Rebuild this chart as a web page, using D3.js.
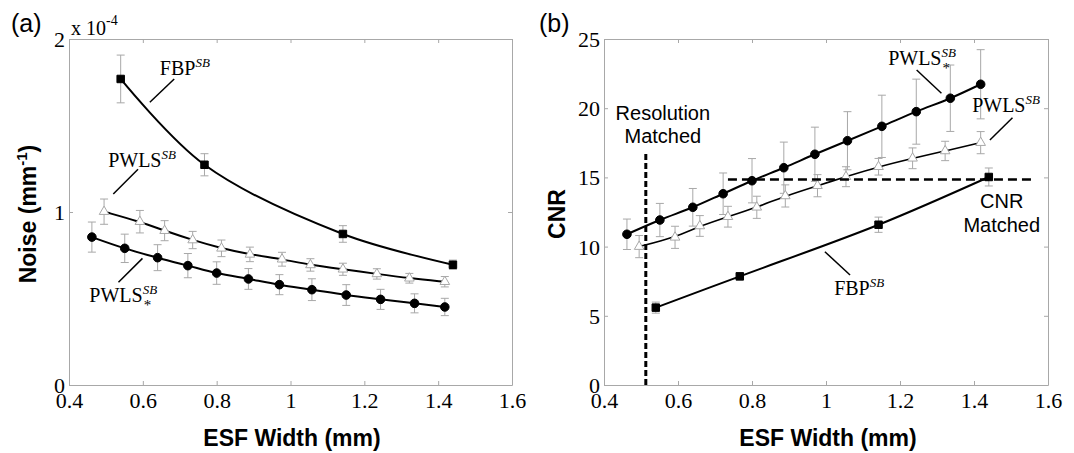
<!DOCTYPE html>
<html>
<head>
<meta charset="utf-8">
<script src="https://cdn.jsdelivr.net/npm/d3@7"></script>
<style>
  body { margin: 0; background: #fff; }
</style>
</head>
<body>
<svg id="chart" width="1074" height="453"></svg>
<script>
// ESF width of each reconstruction (mm)
var fbpX      = [0.54, 0.767, 1.142, 1.44];
var pwlsX     = [0.495, 0.592, 0.659, 0.735, 0.813, 0.89, 0.977, 1.054, 1.142, 1.234, 1.322, 1.418];
var pwlsStarX = [0.462, 0.551, 0.64, 0.722, 0.8, 0.886, 0.97, 1.058, 1.151, 1.244, 1.336, 1.418];

// (a) noise, in units of 1e-4 mm^-1
var fbpNoise         = [1.769, 1.273, 0.873, 0.695];
var fbpNoiseErr      = [0.138, 0.064, 0.048, 0.027];
var pwlsNoise        = [1.002, 0.944, 0.892, 0.838, 0.79, 0.755, 0.727, 0.694, 0.669, 0.642, 0.617, 0.597];
var pwlsNoiseErr     = [0.073, 0.065, 0.058, 0.05, 0.048, 0.042, 0.04, 0.036, 0.035, 0.03, 0.028, 0.03];
var pwlsStarNoise    = [0.855, 0.79, 0.736, 0.69, 0.647, 0.613, 0.58, 0.551, 0.52, 0.495, 0.472, 0.451];
var pwlsStarNoiseErr = [0.087, 0.082, 0.075, 0.07, 0.065, 0.06, 0.058, 0.063, 0.06, 0.058, 0.055, 0.05];

// (b) CNR
var fbpCnr         = [5.59, 7.85, 11.58, 15.03];
var fbpCnrErr      = [0.4, 0.25, 0.55, 0.65];
var pwlsCnr        = [10.0, 10.67, 11.49, 12.16, 12.84, 13.66, 14.4, 15.05, 15.77, 16.38, 16.91, 17.51];
var pwlsCnrErr     = [0.8, 0.8, 0.75, 0.75, 0.8, 0.8, 0.8, 0.72, 0.6, 0.75, 0.7, 0.8];
var pwlsStarCnr    = [10.89, 11.92, 12.84, 13.82, 14.76, 15.7, 16.67, 17.65, 18.69, 19.75, 20.72, 21.73];
var pwlsStarCnrErr = [1.1, 1.2, 1.36, 1.5, 1.6, 1.85, 1.96, 2.1, 2.25, 2.35, 2.4, 2.5];

// matching lines in (b)
var resolutionMatchX = 0.513;
var cnrMatchY = 14.85;

var xTicks = [0.4, 0.6, 0.8, 1, 1.2, 1.4, 1.6];
var noiseTicks = [0, 1, 2];
var cnrTicks = [0, 5, 10, 15, 20, 25];

var svg = d3.select("#chart");
var serif = "Liberation Serif";
var sans = "Liberation Sans";

function zip(xs, ys, es) {
  return xs.map(function (x, i) { return {x: x, y: ys[i], e: es ? es[i] : 0}; });
}

function tickFont(a) {
  a.attr("font-family", serif).attr("font-size", 22);
  a.selectAll("text").style("font-family", serif).style("font-size", "22px").attr("fill", "#000");
}

// draws one panel: frame, ticks, error bars, lines, markers
function drawPanel(left, right, yDomain, yTicks, series) {
  var x = d3.scaleLinear().domain([0.4, 1.6]).range([left, right]);
  var y = d3.scaleLinear().domain(yDomain).range([385, 39]);
  var g = svg.append("g");
  var grey = "#a8a8a8";

  g.append("g").attr("transform", "translate(0,385)")
    .call(d3.axisBottom(x).tickValues(xTicks).tickSize(-4).tickSizeOuter(0).tickFormat(d3.format("")))
    .call(tickFont)
    .call(function (a) { a.selectAll("text").attr("y", 23).attr("dy", null); });
  g.append("g").attr("transform", "translate(0,39)")
    .call(d3.axisTop(x).tickValues(xTicks).tickSize(-4).tickSizeOuter(0).tickFormat(""));
  g.append("g").attr("transform", "translate(" + left + ",0)")
    .call(d3.axisLeft(y).tickValues(yTicks).tickSize(-4).tickSizeOuter(0).tickFormat(d3.format("")))
    .call(tickFont)
    .call(function (a) { a.selectAll("text").attr("x", -4).attr("dy", "0.34em"); });
  g.append("g").attr("transform", "translate(" + right + ",0)")
    .call(d3.axisRight(y).tickValues(yTicks).tickSize(-4).tickSizeOuter(0).tickFormat(""));
  g.selectAll(".domain, .tick line").attr("stroke", grey);

  series.forEach(function (s) {
    var eb = g.append("g").attr("stroke", grey).attr("stroke-width", 1);
    s.data.forEach(function (d) {
      var px = x(d.x);
      eb.append("line").attr("x1", px).attr("x2", px).attr("y1", y(d.y - d.e)).attr("y2", y(d.y + d.e));
      eb.append("line").attr("x1", px - 4).attr("x2", px + 4).attr("y1", y(d.y - d.e)).attr("y2", y(d.y - d.e));
      eb.append("line").attr("x1", px - 4).attr("x2", px + 4).attr("y1", y(d.y + d.e)).attr("y2", y(d.y + d.e));
    });
  });

  series.forEach(function (s) {
    var line = d3.line().x(function (d) { return x(d.x); }).y(function (d) { return y(d.y); }).curve(s.curve);
    g.append("path").datum(s.data).attr("d", line)
      .attr("fill", "none").attr("stroke", "#000").attr("stroke-width", s.width);
  });

  series.forEach(function (s) {
    var sym = d3.symbol().type(s.symbol).size(s.size);
    g.append("g").selectAll("path").data(s.data).join("path")
      .attr("transform", function (d) { return "translate(" + x(d.x) + "," + y(d.y) + ")"; })
      .attr("d", sym)
      .attr("fill", s.fill).attr("stroke", s.stroke).attr("stroke-width", 1);
  });

  return {x: x, y: y, g: g};
}

// label like FBP^SB, optionally with a * subscript under the SB
function mathLabel(p, dx, dy, base, star) {
  var t = p.g.append("text").attr("x", p.x(dx)).attr("y", p.y(dy))
    .attr("font-family", serif).attr("font-size", 20);
  var b = t.append("tspan").text(base);
  var w = b.node().getComputedTextLength();
  t.append("tspan").attr("font-style", "italic").attr("font-size", 13).attr("dy", -8).text("SB");
  if (star) {
    p.g.append("text").attr("x", p.x(dx) + w + 1).attr("y", p.y(dy) + 8)
      .attr("font-family", serif).attr("font-size", 15).text("*");
  }
}

function leader(p, x1, y1, x2, y2) {
  p.g.append("line").attr("x1", p.x(x1)).attr("y1", p.y(y1)).attr("x2", p.x(x2)).attr("y2", p.y(y2))
    .attr("stroke", "#000").attr("stroke-width", 1.5);
}

// ---------- (a) Noise ----------
var a = drawPanel(69, 512, [0, 2], noiseTicks, [
  {data: zip(pwlsX, pwlsNoise, pwlsNoiseErr), curve: d3.curveBasis, width: 2,
   symbol: d3.symbolTriangle, size: 40, fill: "#fff", stroke: "#a8a8a8"},
  {data: zip(pwlsStarX, pwlsStarNoise, pwlsStarNoiseErr), curve: d3.curveCatmullRom, width: 2,
   symbol: d3.symbolCircle, size: 58, fill: "#000", stroke: "#000"},
  {data: zip(fbpX, fbpNoise, fbpNoiseErr), curve: d3.curveCatmullRom, width: 2,
   symbol: d3.symbolSquare, size: 56, fill: "#000", stroke: "#000"}
]);

mathLabel(a, 0.646, 1.792, "FBP", false);
leader(a, 0.619, 1.634, 0.685, 1.769);
mathLabel(a, 0.506, 1.262, "PWLS", false);
leader(a, 0.52, 1.104, 0.587, 1.247);
mathLabel(a, 0.455, 0.482, "PWLS", true);
leader(a, 0.534, 0.594, 0.599, 0.732);

var expo = svg.append("text").attr("x", 71).attr("y", 35)
  .attr("font-family", serif).attr("font-size", 20);
expo.append("tspan").text("x 10");
expo.append("tspan").attr("font-size", 14).attr("dy", -10).text("-4");

svg.append("text").attr("x", 11).attr("y", 32).attr("font-family", sans).attr("font-size", 25).text("(a)");

var yl = svg.append("text").attr("transform", "translate(36,214) rotate(-90)")
  .attr("text-anchor", "middle").attr("font-family", sans).attr("font-weight", "bold").attr("font-size", 23);
yl.append("tspan").text("Noise (mm");
yl.append("tspan").attr("font-size", 15).attr("dy", -9).text("-1");
yl.append("tspan").attr("dy", 9).text(")");

svg.append("text").attr("x", 292).attr("y", 446).attr("text-anchor", "middle")
  .attr("font-family", sans).attr("font-weight", "bold").attr("font-size", 23).text("ESF Width (mm)");

// ---------- (b) CNR ----------
var b = drawPanel(604, 1048, [0, 25], cnrTicks, [
  {data: zip(pwlsX, pwlsCnr, pwlsCnrErr), curve: d3.curveBasis, width: 1.6,
   symbol: d3.symbolTriangle, size: 40, fill: "#fff", stroke: "#a8a8a8"},
  {data: zip(pwlsStarX, pwlsStarCnr, pwlsStarCnrErr), curve: d3.curveCatmullRom, width: 2,
   symbol: d3.symbolCircle, size: 58, fill: "#000", stroke: "#000"},
  {data: zip(fbpX, fbpCnr, fbpCnrErr), curve: d3.curveCatmullRom, width: 2,
   symbol: d3.symbolSquare, size: 56, fill: "#000", stroke: "#000"}
]);

b.g.append("line").attr("x1", b.x(resolutionMatchX)).attr("x2", b.x(resolutionMatchX))
  .attr("y1", b.y(0)).attr("y2", b.y(16.74))
  .attr("stroke", "#000").attr("stroke-width", 3).attr("stroke-dasharray", "6,3");
b.g.append("line").attr("x1", b.x(0.735)).attr("x2", b.x(1.556))
  .attr("y1", b.y(cnrMatchY)).attr("y2", b.y(cnrMatchY))
  .attr("stroke", "#000").attr("stroke-width", 2.5).attr("stroke-dasharray", "9,5");

mathLabel(b, 1.168, 23.12, "PWLS", true);
leader(b, 1.245, 22.76, 1.312, 21.08);
mathLabel(b, 1.395, 19.75, "PWLS", false);
leader(b, 1.443, 17.7, 1.504, 19.31);
mathLabel(b, 1.022, 6.5, "FBP", false);
leader(b, 0.997, 9.63, 1.065, 7.95);

function sansText(p, dx, dy, s) {
  p.g.append("text").attr("x", p.x(dx)).attr("y", p.y(dy)).attr("text-anchor", "middle")
    .attr("font-family", sans).attr("font-size", 20).text(s);
}
sansText(b, 0.559, 19.15, "Resolution");
sansText(b, 0.559, 17.46, "Matched");
sansText(b, 1.475, 12.79, "CNR");
sansText(b, 1.475, 11.08, "Matched");

svg.append("text").attr("x", 539).attr("y", 32).attr("font-family", sans).attr("font-size", 25).text("(b)");

svg.append("text").attr("transform", "translate(565,214) rotate(-90)")
  .attr("text-anchor", "middle").attr("font-family", sans).attr("font-weight", "bold").attr("font-size", 23).text("CNR");

svg.append("text").attr("x", 828).attr("y", 446).attr("text-anchor", "middle")
  .attr("font-family", sans).attr("font-weight", "bold").attr("font-size", 23).text("ESF Width (mm)");
</script>
</body>
</html>
